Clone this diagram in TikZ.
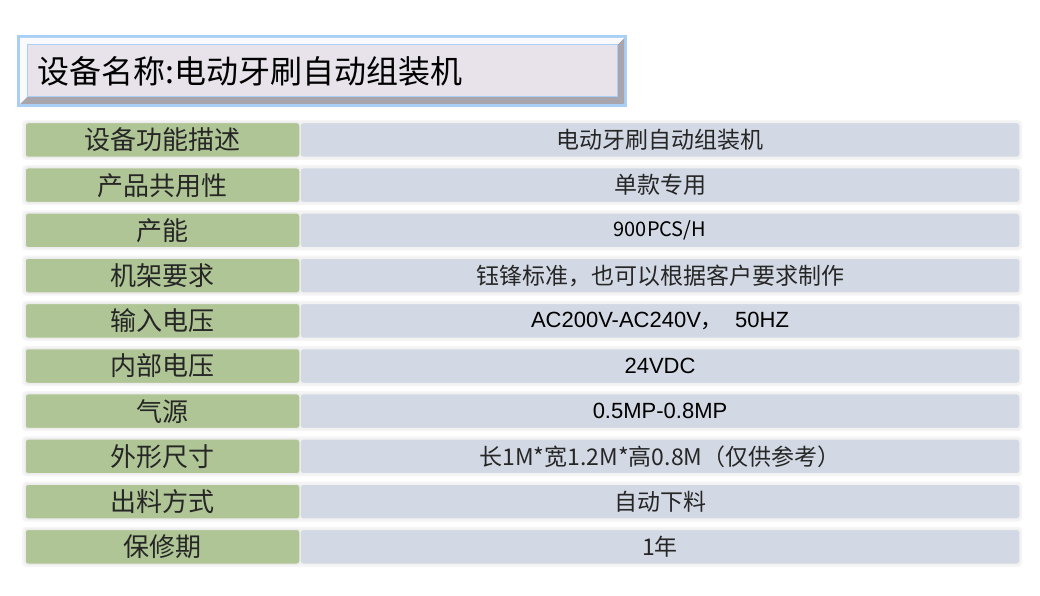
\documentclass[tikz,border=0pt]{standalone}
\usepackage{fontspec}
\setmainfont{Liberation Sans}
\newfontfamily\cjk{Noto Sans CJK SC}
\definecolor{lab}{HTML}{B0C595}
\definecolor{val}{HTML}{D3D9E4}
\definecolor{tfill}{HTML}{E8E2EA}
\definecolor{tblue}{HTML}{A9CFF5}
\definecolor{bev}{HTML}{A8A6AC}
\begin{document}
\begin{tikzpicture}[x=1pt,y=-1pt,
 labcell/.style={fill=lab,draw=white!85!gray,line width=1.5pt,rounded corners=3pt},
 valcell/.style={fill=val,draw=white!90!gray,line width=1.5pt,rounded corners=3pt},
 labtxt/.style={font=\cjk\fontsize{26}{26}\selectfont,text=black!85},
 valtxt/.style={font=\cjk\fontsize{23}{23}\selectfont,text=black!85}]
\useasboundingbox (0,0) rectangle (1040,596);
% title
\fill[tblue] (17,35) rectangle (627,107);
\fill[tfill] (20,38) rectangle (624,104);
\fill[bev] (617,45) -- (624,38) -- (624,104) -- (617,97) -- cycle;
\fill[bev] (27,97) -- (617,97) -- (624,104) -- (20,104) -- cycle;
\fill[white!80!tfill] (20,38) -- (624,38) -- (617,45) -- (27,45) -- cycle;
\fill[white!80!tfill] (20,38) -- (27,45) -- (27,97) -- (20,104) -- cycle;
\draw[tblue,line width=1pt] (27,45) rectangle (617,97);
\node[anchor=west,font=\cjk\fontsize{32}{32}\selectfont] (title) at (34,71) {设备名称:电动牙刷自动组装机};
\foreach \i/\l/\v/\f in {
0/设备功能描述/电动牙刷自动组装机/1,
1/产品共用性/单款专用/1,
2/产能/{900PCS/H}/0,
3/机架要求/钰锋标准，也可以根据客户要求制作/1,
4/输入电压/{AC200V-AC240V{\cjk ，}\ \ 50HZ}/2,
5/内部电压/24VDC/2,
6/气源/0.5MP-0.8MP/2,
7/外形尺寸/长1M*宽1.2M*高0.8M（仅供参考）/1,
8/出料方式/自动下料/1,
9/保修期/1年/1}{
 \pgfmathsetmacro\yc{140+45.2*\i}
 \fill[white!92!gray,rounded corners=4pt] (22,\yc-20) rectangle (1022,\yc+20);
 \path[valcell] (300,\yc-17.5) rectangle (1020,\yc+17.5);
 \path[labcell] (25,\yc-17.5) rectangle (300,\yc+17.5);
 \node[labtxt] (l\i) at (162,\yc) {\l};
 \ifnum\f=0
  \node[font=\cjk\fontsize{20}{20}\selectfont] (v\i) at (660,\yc) {\v};
 \else\ifnum\f=2
  \node[font=\fontsize{22}{22}\selectfont] (v\i) at (660,\yc) {\v};
 \else
  \node[valtxt] (v\i) at (660,\yc) {\v};
 \fi\fi
}
\end{tikzpicture}
\end{document}
